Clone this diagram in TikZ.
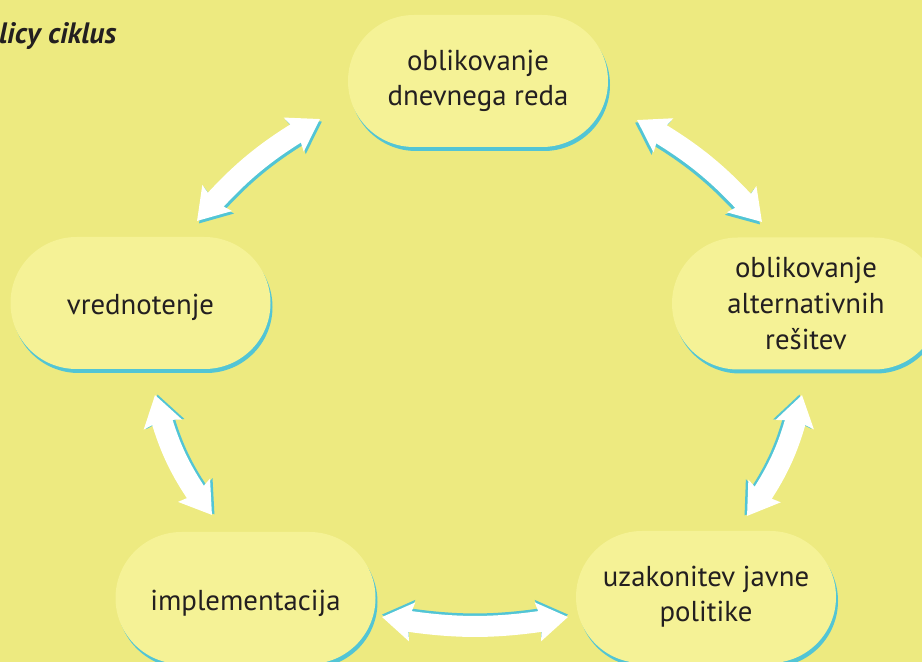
\documentclass[tikz,border=0pt]{standalone}
\usepackage{fontspec}
\setmainfont{PT Sans}
\usetikzlibrary{arrows.meta,bending,shadows,shapes.misc}
\definecolor{bg}{HTML}{EDEA80}
\definecolor{nodefill}{HTML}{F5F296}
\definecolor{shadowc}{HTML}{52C5D5}
\definecolor{ink}{HTML}{231F20}
\tikzset{
  stage/.style={rounded rectangle, fill=nodefill, draw=none,
    minimum width=260pt, minimum height=132pt, align=center, inner sep=0pt,
    text=ink, font=\fontsize{28.8}{35}\selectfont,
    general shadow={shadow xshift=2pt, shadow yshift=-4pt, fill=shadowc}},
  textdrop/.style={execute at begin node={\rule{0pt}{#1}}},
  headtip/.tip={Stealth[length=30pt,width=38pt,inset=4pt]},
  cyc/.style={line width=21pt, white, arrows={headtip-headtip}},
  cycsh/.style={cyc, shadowc}
}
\begin{document}
\begin{tikzpicture}[x=1pt,y=1pt]
\fill[bg] (0,0) rectangle (922,662);
\useasboundingbox (0,0) rectangle (922,662);
\clip (0,0) rectangle (922,662);

\node[anchor=base west, inner sep=0pt, text=ink,
  font=\bfseries\itshape\fontsize{29.5}{34}\selectfont] (title) at (-1,618) {licy ciklus};

\node[stage] (agenda) at (478,581) {oblikovanje\\dnevnega reda};
\node[stage, minimum width=268pt, font=\fontsize{28.8}{36}\selectfont, textdrop=38pt] (alter) at (806,358.5) {oblikovanje\\alternativnih\\rešitev};
\node[stage, textdrop=30pt] (eval) at (140.5,359) {vrednotenje};
\node[stage, textdrop=32pt] (impl) at (245.5,64) {implementacija};
\node[stage, textdrop=33pt] (legis) at (706,65) {uzakonitev javne\\politike};

\coordinate (a1s) at (197,441); \coordinate (a1e) at (320,543);
\coordinate (a2s) at (637,542); \coordinate (a2e) at (762,440);
\coordinate (a3s) at (802,267); \coordinate (a3e) at (747,146);
\coordinate (a4s) at (568,45);  \coordinate (a4e) at (382,45);
\coordinate (a5s) at (212,147); \coordinate (a5e) at (155,267);

\draw[cycsh, transform canvas={xshift=2pt,yshift=-2.5pt}] (a1s) to[bend left=10] (a1e);
\draw[cyc] (a1s) to[bend left=10] (a1e);
\draw[cycsh, transform canvas={xshift=-2pt,yshift=-2.5pt}] (a2s) to[bend left=10] (a2e);
\draw[cyc] (a2s) to[bend left=10] (a2e);
\draw[cycsh, transform canvas={xshift=-2.5pt,yshift=0.5pt}] (a3s) to[bend left=12] (a3e);
\draw[cyc] (a3s) to[bend left=12] (a3e);
\draw[cycsh, transform canvas={yshift=2.5pt}] (a4s) to[bend left=10] (a4e);
\draw[cyc] (a4s) to[bend left=10] (a4e);
\draw[cycsh, transform canvas={xshift=2.5pt,yshift=0.5pt}] (a5s) to[bend left=12] (a5e);
\draw[cyc] (a5s) to[bend left=12] (a5e);
\end{tikzpicture}
\end{document}
